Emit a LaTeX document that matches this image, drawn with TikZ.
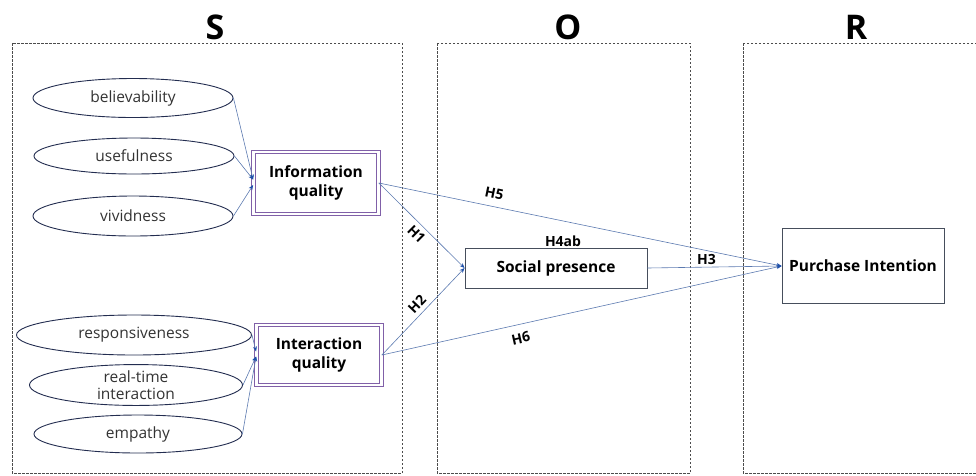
\documentclass[tikz,border=0pt]{standalone}
\usepackage{fontspec}
\setmainfont{Open Sans}
\usetikzlibrary{shapes.geometric,arrows.meta}
\definecolor{linkblue}{RGB}{92,122,176}
\definecolor{tipblue}{RGB}{30,80,170}
\definecolor{dimpurple}{RGB}{128,96,168}
\definecolor{traitnavy}{RGB}{35,45,80}
\definecolor{boxgray}{RGB}{70,78,92}

\begin{document}
\begin{tikzpicture}[x=1pt,y=-1pt,
        panel/.style={draw=black!70, dash pattern=on 2.5pt off 1.5pt, line width=0.7pt},
        stage/.style={font=\fontsize{34}{34}\selectfont\bfseries},
        trait/.style={ellipse, draw=traitnavy, line width=0.9pt, inner sep=0pt, text=black!80, align=center, font=\fontsize{15.5}{17}\selectfont},
        dimbox/.style={draw=dimpurple, double, double distance=2.5pt, line width=0.8pt, inner sep=0pt, minimum width=125pt, align=center, font=\fontsize{15.5}{19}\selectfont\bfseries},
        factor/.style={draw=boxgray, line width=0.9pt, inner sep=0pt, font=\fontsize{15.5}{19}\selectfont\bfseries},
        link/.style={draw=linkblue, line width=0.6pt, -{Stealth[length=5pt,width=4pt,color=tipblue]}},
        hyp/.style={font=\fontsize{14}{14}\selectfont\bfseries, inner sep=2.5pt}]
        \useasboundingbox (0,0) rectangle (976,475);

        % Stages S - O - R
        \draw[panel] (12,43) rectangle (402,473);
        \draw[panel] (437,43) rectangle (690,473);
        \draw[panel] (743,43) rectangle (990,473);
        \node[stage] (stageS) at (215,27) {S};
        \node[stage] (stageO) at (568,27) {O};
        \node[stage] (stageR) at (856,27) {R};

        % Information quality and its dimensions
        \node[trait, minimum width=200pt, minimum height=39pt] (believ) at (133,98) {believability};
        \node[trait, minimum width=200pt, minimum height=36pt] (useful) at (134,156) {usefulness};
        \node[trait, minimum width=200pt, minimum height=40pt] (vivid) at (133,216) {vividness};
        \node[dimbox, minimum height=62pt] (info) at (316,183) {Information\\quality};

        % Interaction quality and its dimensions
        \node[trait, minimum width=235pt, minimum height=40pt] (respons) at (134,335) {responsiveness};
        \node[trait, minimum width=213pt, minimum height=37pt] (realtime) at (136,385) {real-time\\interaction};
        \node[trait, minimum width=208pt, minimum height=38pt] (empathy) at (138,434) {empathy};
        \node[dimbox, minimum height=60pt] (inter) at (319,355) {Interaction\\quality};

        % Organism and response
        \node[factor, minimum width=182pt, minimum height=40pt] (social) at (556,268) {Social presence};
        \node[factor, minimum width=162pt, minimum height=75pt] (purchase) at (863,266) {Purchase Intention};
        \node[hyp, anchor=south, inner sep=1pt] (h4ab) at ([xshift=7pt]social.north) {H4ab};

        % Dimensions to constructs
        \draw[link] (believ.east) -- ([yshift=3.5pt]info.west);
        \draw[link] (useful.east) -- ([yshift=3.5pt]info.west);
        \draw[link] (vivid.east) -- ([yshift=-2pt]info.west);
        \draw[link] (respons.east) -- ([yshift=3.5pt]inter.west);
        \draw[link] (realtime.east) -- ([yshift=-1.5pt]inter.west);
        \draw[link] (empathy.east) -- ([yshift=-1.5pt]inter.west);

        % Hypotheses
        \draw[link] (info.east) -- node[hyp, sloped, below=2pt, pos=0.52] {H1} (social.west);
        \draw[link] (inter.east) -- node[hyp, sloped, above=2pt, pos=0.51] {H2} (social.west);
        \draw[link] (info.east) -- node[hyp, sloped, above=5pt, pos=0.28] {H5} (purchase.west);
        \draw[link] (inter.east) -- node[hyp, sloped, below=6pt, pos=0.34] {H6} (purchase.west);
        \draw[link] (social.east) -- node[hyp, above, pos=0.44] {H3} (purchase.west);
    \end{tikzpicture}
\end{document}
